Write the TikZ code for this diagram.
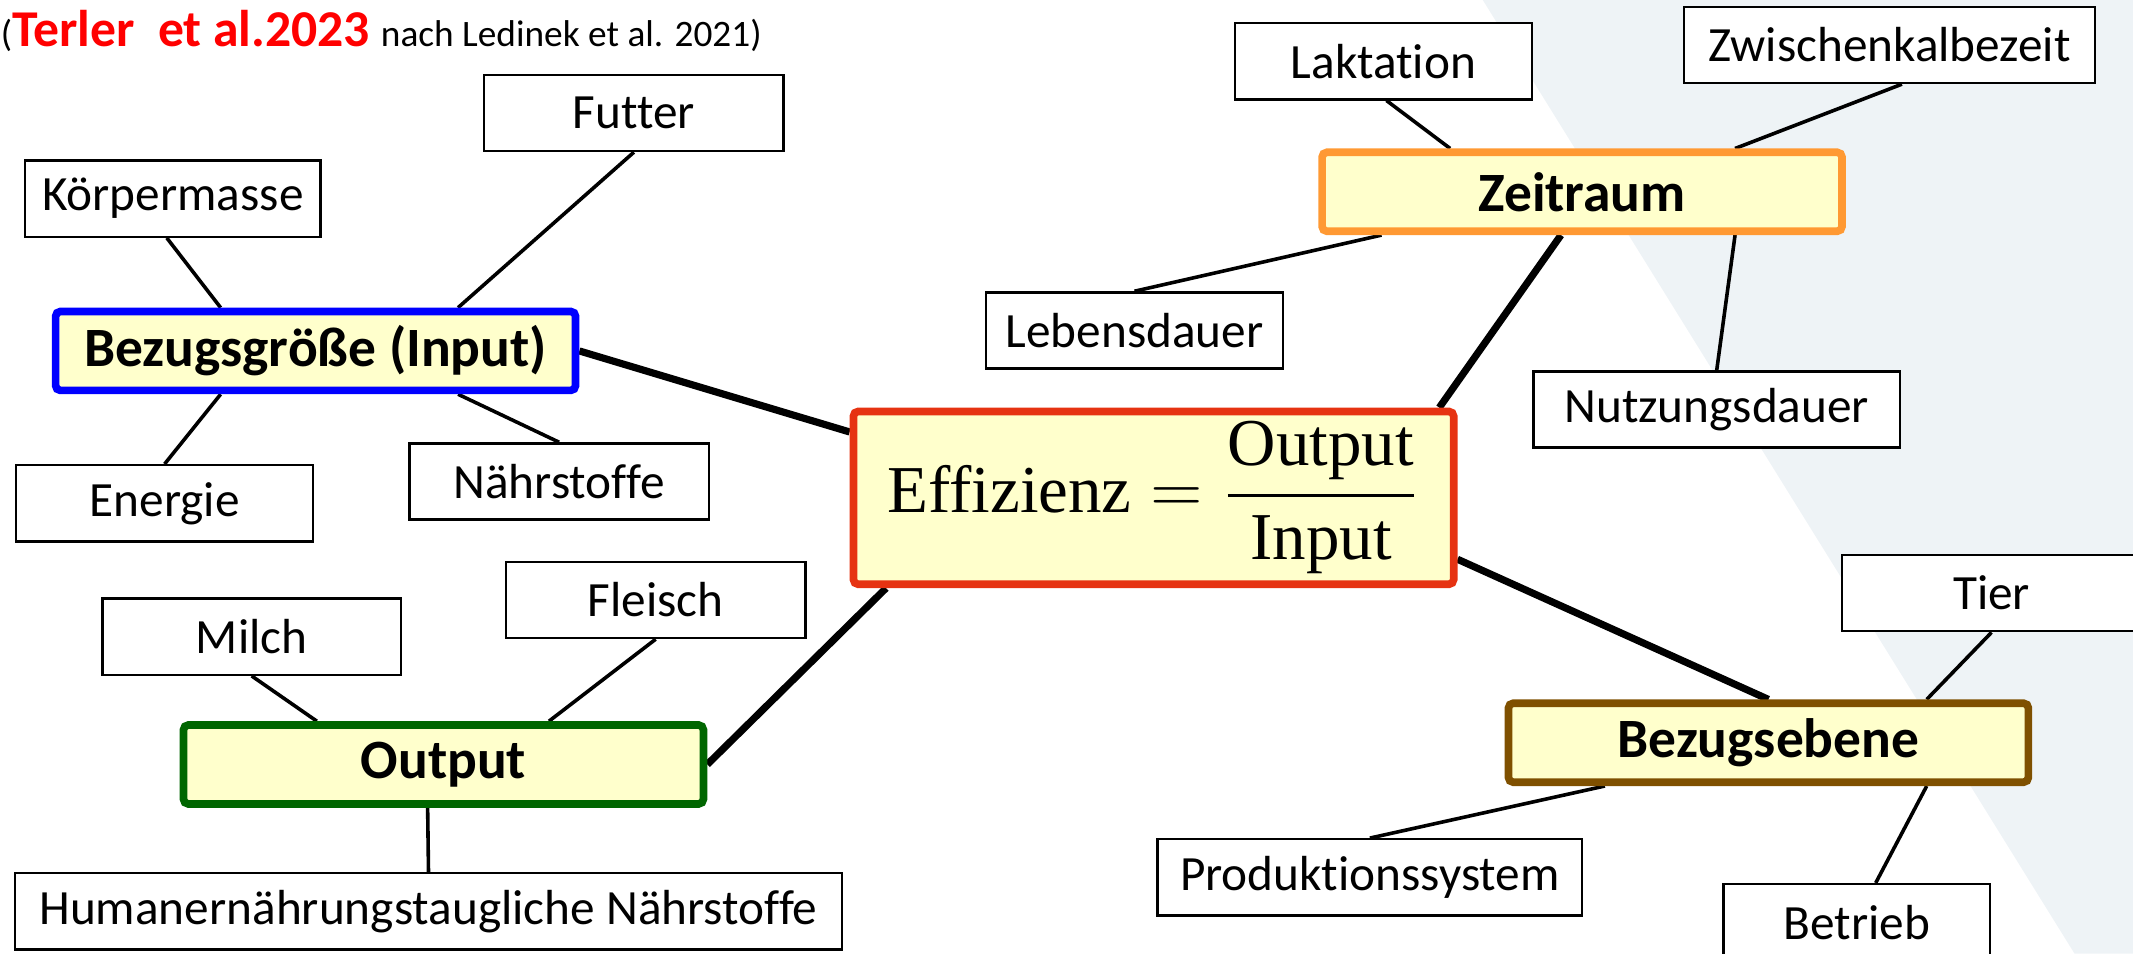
\documentclass[tikz,border=0pt]{standalone}
\usepackage{fontspec}
\setmainfont{Carlito}[RawFeature={-liga;-calt;-clig;-dlig}]
\newfontfamily\effont{Liberation Serif}
\usepackage{amsmath}
\usepackage{tikz}
\usetikzlibrary{calc}
\definecolor{boxfill}{RGB}{255,255,204}
\definecolor{inputblue}{RGB}{0,0,255}
\definecolor{outgreen}{RGB}{0,102,0}
\definecolor{effred}{RGB}{230,51,18}
\definecolor{timeorange}{RGB}{255,153,51}
\definecolor{levelbrown}{RGB}{127,80,0}
\definecolor{slide}{RGB}{238,243,246}
\pgfdeclarelayer{bg}
\pgfsetlayers{bg,main}

\begin{document}
\begin{tikzpicture}[x=0.01cm,y=-0.01cm,
    leaf/.style={draw,line width=0.5pt,fill=white,inner sep=0pt,minimum height=0.56cm,font=\fontsize{10.3}{12}\selectfont},
    hub/.style={draw,line width=1.6pt,fill=boxfill,inner sep=0pt,minimum width=3.82cm,minimum height=0.58cm,rounded corners=1pt,font=\fontsize{11.6}{13}\selectfont\bfseries},
    twig/.style={line width=0.75pt},
    branch/.style={line width=1.5pt}]
    \useasboundingbox (0,0) rectangle (1568,701);
    % background wedge
    \begin{pgfonlayer}{bg}
        \fill[slide] (1090,0) -- (1568,0) -- (1568,701) -- (1525,701) -- cycle;
    \end{pgfonlayer}
    % source
    \node[anchor=base west,inner sep=0pt] (src) at (0,34) {{\fontsize{7.8}{9}\selectfont(}{\color{red}\fontsize{10.8}{12}\selectfont\bfseries Terler\ \ et al.2023} {\fontsize{7.8}{9}\selectfont nach Ledinek et al. 2021)}};
    % centre
    \node[draw=effred,fill=boxfill,line width=1.6pt,inner sep=0pt,minimum width=4.41cm,minimum height=1.27cm,rounded corners=1pt] (eff) at (848,366)
        {\fontsize{14}{16}\selectfont$\text{\effont Effizienz} = \dfrac{\text{\effont Output}}{\text{\effont Input}}$};
    % main groups
    \node[hub,draw=inputblue] (input) at (232,258) {Bezugsgröße (Input)};
    \node[hub,draw=outgreen] (output) at (326,562) {Output};
    \node[hub,draw=timeorange] (zeit) at (1163,141) {Zeitraum};
    \node[hub,draw=levelbrown] (ebene) at (1300,546) {Bezugsebene};
    % input
    \node[leaf,minimum width=2.17cm] (kor) at (127,146) {Körpermasse};
    \node[leaf,minimum width=2.20cm] (futter) at (466,83) {Futter};
    \node[leaf,minimum width=2.18cm] (energie) at (121,370) {Energie};
    \node[leaf,minimum width=2.20cm] (naehr) at (411,354) {Nährstoffe};
    % output
    \node[leaf,minimum width=2.19cm] (milch) at (185,468) {Milch};
    \node[leaf,minimum width=2.20cm] (fleisch) at (482,441) {Fleisch};
    \node[leaf,minimum width=6.08cm] (human) at (315,670) {Humanernährungstaugliche Nährstoffe};
    % zeitraum
    \node[leaf,minimum width=2.18cm] (lakt) at (1017,45) {Laktation};
    \node[leaf,minimum width=3.02cm] (zkz) at (1389,33) {Zwischenkalbezeit};
    \node[leaf,minimum width=2.18cm] (leben) at (834,243) {Lebensdauer};
    \node[leaf,minimum width=2.69cm] (nutz) at (1262,301) {Nutzungsdauer};
    % bezugsebene
    \node[leaf,minimum width=2.20cm] (tier) at (1464,436) {Tier};
    \node[leaf,minimum width=3.12cm] (prod) at (1007,645) {Produktionssystem};
    \node[leaf,minimum width=1.96cm] (betrieb) at (1365,678) {Betrieb};
    \begin{pgfonlayer}{bg}
        % to the centre
        \draw[branch] (input.east) -- ($(eff.north west)!0.135!(eff.south west)$);
        \draw[branch] (output.east) -- ($(eff.south west)!0.06!(eff.south east)$);
        \draw[branch] ($(zeit.south west)!0.46!(zeit.south east)$) -- ($(eff.north west)!0.97!(eff.north east)$);
        \draw[branch] ($(eff.north east)!0.84!(eff.south east)$) -- (ebene.north);
        % leaves
        \draw[twig] ($(kor.south west)!0.48!(kor.south east)$) -- ($(input.north west)!0.32!(input.north east)$);
        \draw[twig] (futter.south) -- ($(input.north west)!0.77!(input.north east)$);
        \draw[twig] ($(input.south west)!0.32!(input.south east)$) -- (energie.north);
        \draw[twig] ($(input.south west)!0.77!(input.south east)$) -- (naehr.north);
        \draw[twig] (milch.south) -- ($(output.north west)!0.26!(output.north east)$);
        \draw[twig] (fleisch.south) -- ($(output.north west)!0.70!(output.north east)$);
        \draw[twig] ($(output.south west)!0.47!(output.south east)$) -- (human.north);
        \draw[twig] ($(lakt.south west)!0.51!(lakt.south east)$) -- ($(zeit.north west)!0.25!(zeit.north east)$);
        \draw[twig] ($(zkz.south west)!0.53!(zkz.south east)$) -- ($(zeit.north west)!0.79!(zeit.north east)$);
        \draw[twig] ($(zeit.south west)!0.12!(zeit.south east)$) -- (leben.north);
        \draw[twig] ($(zeit.south west)!0.79!(zeit.south east)$) -- (nutz.north);
        \draw[twig] (tier.south) -- ($(ebene.north west)!0.80!(ebene.north east)$);
        \draw[twig] ($(ebene.south west)!0.19!(ebene.south east)$) -- (prod.north);
        \draw[twig] ($(ebene.south west)!0.80!(ebene.south east)$) -- ($(betrieb.north west)!0.57!(betrieb.north east)$);
    \end{pgfonlayer}
\end{tikzpicture}
\end{document}
